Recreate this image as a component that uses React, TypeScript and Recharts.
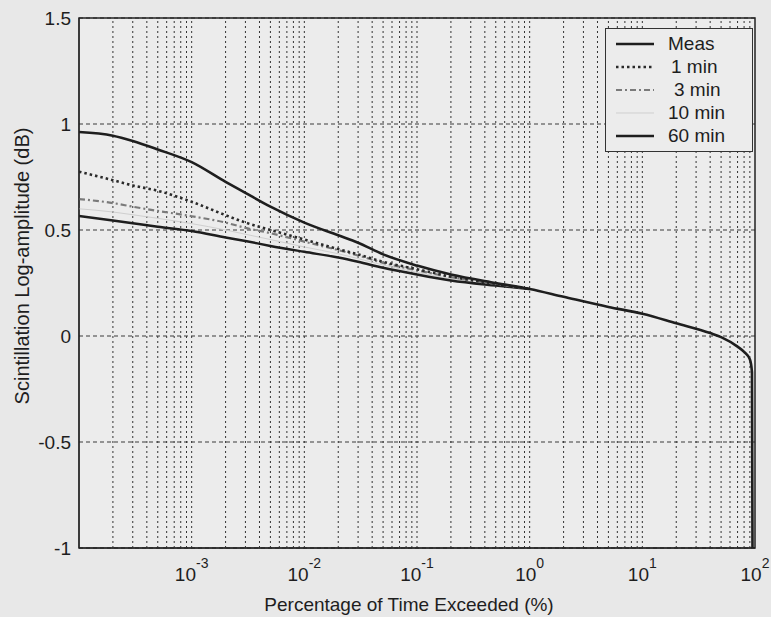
import React from 'react'
import {
  LineChart,
  Line,
  XAxis,
  YAxis,
  CartesianGrid,
  ReferenceLine,
  ReferenceArea,
} from 'recharts'

// percentage of time exceeded (%), log axis
const pct = [
  1e-4, 2e-4, 3e-4, 5e-4, 1e-3, 2e-3, 3e-3, 5e-3, 1e-2, 2e-2, 3e-2, 5e-2, 0.1, 0.2, 0.5, 1,
  2, 5, 10, 20, 40, 50, 70, 80, 90, 94, 95,
]

// scintillation log-amplitude (dB)
const meas = [
  0.962, 0.945, 0.92, 0.88, 0.82, 0.727, 0.675, 0.61, 0.535, 0.475, 0.44, 0.385, 0.332, 0.29, 0.25, 0.222,
  0.185, 0.137, 0.105, 0.06, 0.014, -0.005, -0.05, -0.075, -0.11, -0.17, -1,
]
const min1 = [0.775, 0.735, 0.71, 0.685, 0.633, 0.57, 0.535, 0.5, 0.455, 0.41, 0.385, 0.35, 0.315, 0.28, 0.246, 0.222]
const min3 = [0.646, 0.627, 0.61, 0.59, 0.565, 0.535, 0.51, 0.485, 0.445, 0.405, 0.38, 0.345, 0.31, 0.278, 0.245, 0.222]
const min10 = [0.6, 0.585, 0.572, 0.555, 0.53, 0.5, 0.48, 0.455, 0.42, 0.388, 0.365, 0.335, 0.3, 0.27, 0.242, 0.222]
const min60 = [0.566, 0.545, 0.532, 0.515, 0.495, 0.465, 0.448, 0.425, 0.397, 0.37, 0.35, 0.322, 0.29, 0.262, 0.238, 0.222]

const xTicks = [1e-3, 1e-2, 1e-1, 1, 10, 100]
const yTicks = [-1, -0.5, 0, 0.5, 1, 1.5]
const decades = [1e-4, 1e-3, 1e-2, 1e-1, 1, 10]
const minors = [1, 2, 3, 4, 5, 6, 7, 8, 9]

const gridX = decades
  .flatMap((d) => minors.map((m) => m * d))
  .filter((v) => v > 1.01e-4 && v < 99)

const rows = pct.map((p, i) => ({
  pct: p,
  meas: meas[i],
  min1: min1[i],
  min3: min3[i],
  min10: min10[i],
  min60: min60[i],
}))

const FONT = '"Liberation Sans", Arial, sans-serif'
const INK = '#1e1e1e'

const series = [
  { key: 'min10', name: '10 min', color: '#cfcfcf', width: 1, dash: undefined, pad: 0 },
  { key: 'min60', name: '60 min', color: '#1e1e1e', width: 2.5, dash: undefined, pad: 0 },
  { key: 'min3', name: '3 min', color: '#7a7a7a', width: 2.2, dash: '6 3 2 3', pad: 6 },
  { key: 'min1', name: '1 min', color: '#2a2a2a', width: 2.6, dash: '2.5 3', pad: 3 },
  { key: 'meas', name: 'Meas', color: '#1e1e1e', width: 2.6, dash: undefined, pad: 0 },
]
const legendOrder = ['meas', 'min1', 'min3', 'min10', 'min60']

function XTick(props: any) {
  const { x, y, payload } = props
  const exp = Math.round(Math.log10(payload.value))
  return (
    <text x={x} y={y + 25} textAnchor="middle" fontFamily={FONT} fontSize={19} fill={INK}>
      <tspan>10</tspan>
      <tspan dy={-13} fontSize={14}>
        {exp}
      </tspan>
    </text>
  )
}

function Legendbox() {
  return (
    <div
      style={{
        position: 'absolute',
        left: 605,
        top: 28,
        width: 148,
        height: 124,
        border: '1.5px solid #333',
        background: '#ececec',
        fontFamily: FONT,
        fontSize: 19,
        color: INK,
        boxSizing: 'border-box',
        paddingTop: 3,
      }}
    >
      {legendOrder.map((k) => {
        const s = series.find((d) => d.key === k)!
        return (
          <div key={k} style={{ display: 'flex', alignItems: 'center', height: 23 }}>
            <svg width={62} height={12} style={{ flex: 'none' }}>
              <line
                x1={10}
                x2={48}
                y1={6}
                y2={6}
                stroke={s.color}
                strokeWidth={s.width}
                strokeDasharray={s.dash}
              />
            </svg>
            <span style={{ paddingLeft: s.pad }}>{s.name}</span>
          </div>
        )
      })}
    </div>
  )
}

export default function App() {
  return (
    <div
      style={{
        position: 'absolute',
        left: 0,
        top: 0,
        width: 771,
        height: 617,
        overflow: 'hidden',
        background: '#e8e8e8',
      }}
    >
      <LineChart
        width={771}
        height={617}
        data={rows}
        margin={{ top: 18, right: 16, bottom: 0, left: 0 }}
      >
        <CartesianGrid
          vertical={false}
          stroke="#3a3a3a"
          strokeDasharray="4 3"
          fill="#ececec"
          fillOpacity={1}
        />
        {gridX.map((v) => (
          <ReferenceLine key={v} x={v} stroke="#333" strokeDasharray="2 3" strokeWidth={1} />
        ))}
        <XAxis
          dataKey="pct"
          type="number"
          scale="log"
          domain={[1e-4, 100]}
          allowDataOverflow
          ticks={xTicks}
          tick={<XTick />}
          tickLine={false}
          axisLine={{ stroke: '#222' }}
          height={69}
          label={{
            content: (p: any) => {
              const vb = p.viewBox
              return (
                <text
                  x={vb.x + vb.width / 2 - 8}
                  y={vb.y + 63}
                  textAnchor="middle"
                  fontFamily={FONT}
                  fontSize={19}
                  fill={INK}
                >
                  Percentage of Time Exceeded (%)
                </text>
              )
            },
          }}
        />
        <YAxis
          type="number"
          domain={[-1, 1.5]}
          ticks={yTicks}
          allowDataOverflow
          width={79}
          tickLine={false}
          axisLine={{ stroke: '#222' }}
          tick={{ fontFamily: FONT, fontSize: 19, fill: INK }}
          label={{
            content: (p: any) => {
              const vb = p.viewBox
              const cx = vb.x + 22
              const cy = vb.y + vb.height / 2 - 17
              return (
                <text
                  x={cx}
                  y={cy}
                  transform={`rotate(-90, ${cx}, ${cy})`}
                  textAnchor="middle"
                  dominantBaseline="central"
                  fontFamily={FONT}
                  fontSize={20}
                  fill={INK}
                >
                  Scintillation Log-amplitude (dB)
                </text>
              )
            },
          }}
        />
        {series.map((s) => (
          <Line
            key={s.key}
            dataKey={s.key}
            name={s.name}
            type="monotone"
            stroke={s.color}
            strokeWidth={s.width}
            strokeDasharray={s.dash}
            dot={false}
            activeDot={false}
            isAnimationActive={false}
          />
        ))}
        <ReferenceArea
          x1={1e-4}
          x2={100}
          y1={-1}
          y2={1.5}
          fill="none"
          stroke="#222"
          strokeWidth={1.5}
          ifOverflow="visible"
        />
      </LineChart>
      <Legendbox />
    </div>
  )
}
